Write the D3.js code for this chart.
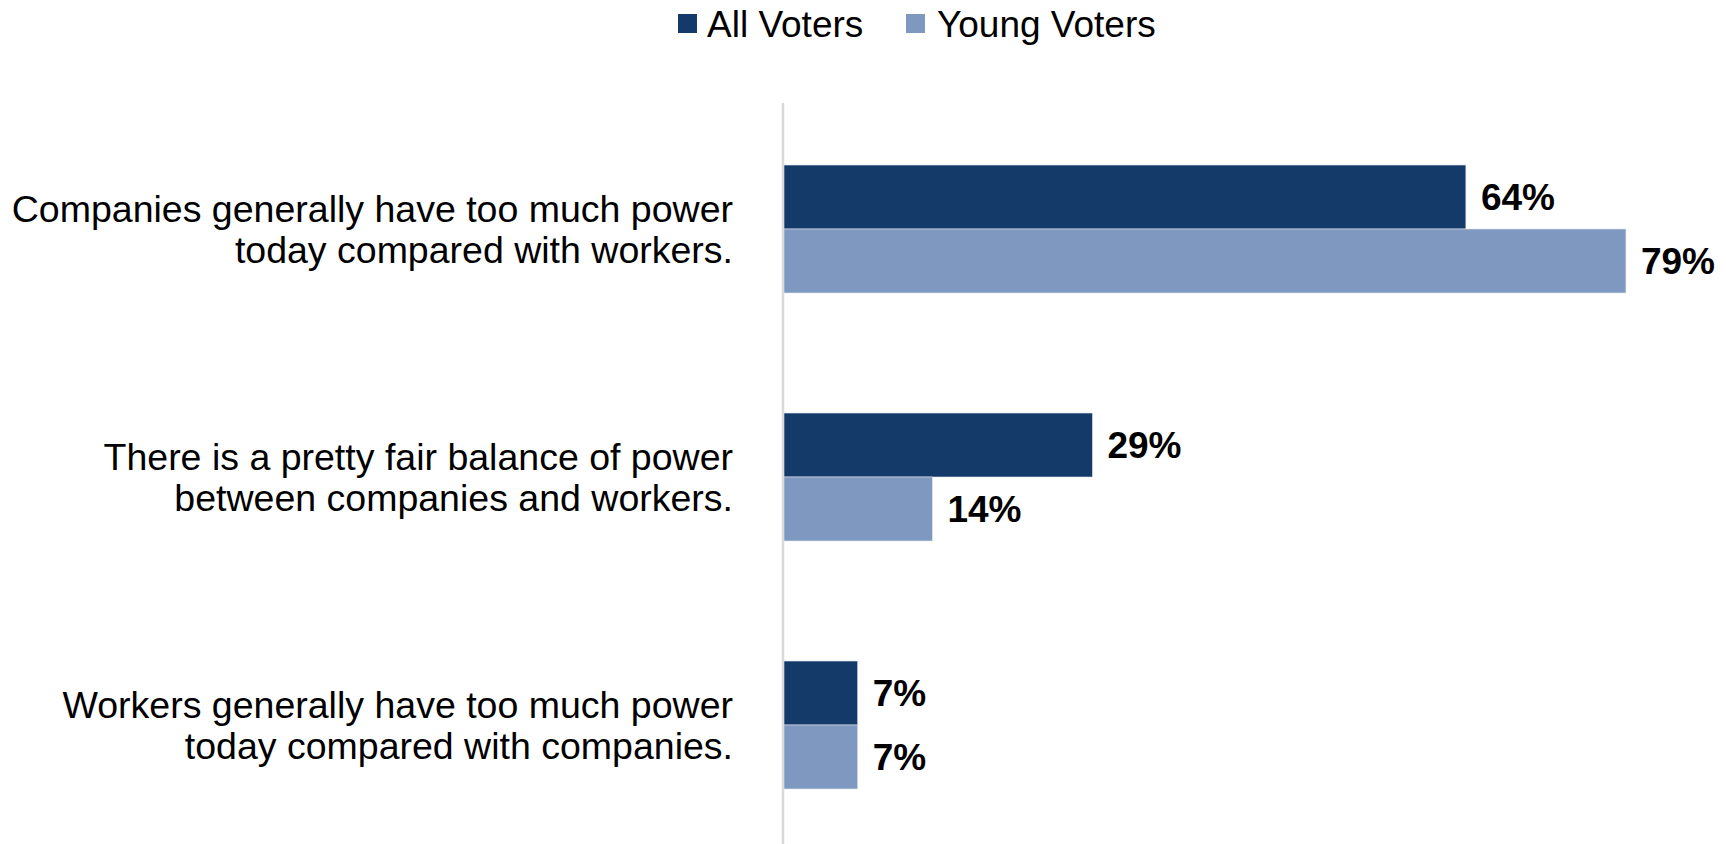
<!DOCTYPE html>
<html>
<head>
<meta charset="utf-8">
<script src="https://cdn.jsdelivr.net/npm/d3@7"></script>
<style>
  html, body { margin: 0; padding: 0; background: #fff; }
  svg { display: block; font-family: "Liberation Sans", Arial, sans-serif; }
</style>
</head>
<body>
<svg id="chart" width="1726" height="844"></svg>
<script>
const categories = [
  ["Companies generally have too much power", "today compared with workers."],
  ["There is a pretty fair balance of power", "between companies and workers."],
  ["Workers generally have too much power", "today compared with companies."]
];
const seriesNames = ["All Voters", "Young Voters"];
const allVoters = [64, 29, 7];
const youngVoters = [79, 14, 7];
const colors = ["#143a69", "#7f98bf"];

const svg = d3.select("#chart");
const W = 1726, H = 844;
const x0 = 783;

const x = d3.scaleLinear().domain([0, 100]).range([x0, x0 + 1067]);
const y = d3.scaleBand().domain(d3.range(categories.length)).range([105, 849]).paddingInner(0.484).paddingOuter(0.242);
const ySub = d3.scaleBand().domain([0, 1]).range([0, y.bandwidth()]);

const series = [allVoters, youngVoters];

// axis line
svg.append("line")
  .attr("x1", x(0)).attr("x2", x(0))
  .attr("y1", 103).attr("y2", H)
  .attr("stroke", "#d9d9d9").attr("stroke-width", 2.5);

// bars
series.forEach((vals, s) => {
  const g = svg.append("g");
  g.selectAll("rect").data(vals).join("rect")
    .attr("x", x(0) + 1)
    .attr("y", (d, i) => y(i) + ySub(s))
    .attr("width", d => x(d) - x(0) - 1)
    .attr("height", ySub.bandwidth())
    .attr("fill", colors[s])
    .attr("stroke", "#dde4ee").attr("stroke-width", 0.6);
  g.selectAll("text").data(vals).join("text")
    .attr("x", d => x(d) + 15)
    .attr("y", (d, i) => y(i) + ySub(s) + ySub.bandwidth() / 2)
    .attr("dy", "0.36em")
    .attr("font-size", 37).attr("font-weight", "bold").attr("fill", "#000")
    .text(d => d + "%");
});

// category labels
const cat = svg.append("g");
categories.forEach((lines, i) => {
  const cy = y(i) + y.bandwidth() / 2;
  const t = cat.append("text")
    .attr("x", 733)
    .attr("y", cy - 20.5)
    .attr("text-anchor", "end")
    .attr("font-size", 37.5).attr("fill", "#000");
  lines.forEach((ln, k) => {
    t.append("tspan").attr("x", 733).attr("dy", k === 0 ? "0.36em" : 41).text(ln);
  });
});

// legend
const legend = svg.append("g");
const legendItems = [
  { name: seriesNames[0], color: colors[0], sx: 678, tx: 707 },
  { name: seriesNames[1], color: colors[1], sx: 906, tx: 937 }
];
legendItems.forEach(it => {
  legend.append("rect").attr("x", it.sx).attr("y", 14).attr("width", 19).attr("height", 19).attr("fill", it.color);
  legend.append("text").attr("x", it.tx).attr("y", 37).attr("font-size", 37).attr("fill", "#000").text(it.name);
});
</script>
</body>
</html>
